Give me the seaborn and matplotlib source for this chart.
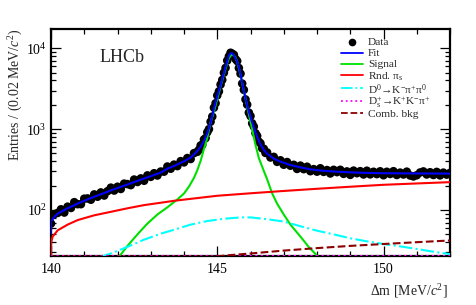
import numpy as np
import pandas as pd
import matplotlib
matplotlib.use("Agg")
import matplotlib.pyplot as plt
from matplotlib.lines import Line2D
from matplotlib.ticker import FixedLocator, LogLocator, NullFormatter, FixedFormatter
import seaborn as sns

# ---------------- data ----------------
# data points (bins)
data_y_left = [68, 89, 92, 102, 93, 110, 106, 125, 118, 118, 138, 139, 134, 156, 146, 165, 151, 171, 189, 174,
               194, 182, 212, 209, 203, 238, 222, 246, 230, 268, 257, 285, 267, 299, 298, 345, 324, 364, 349, 402,
               388, 439, 427, 505, 524]                     # 140.0 .. 144.4 step 0.1
data_y_peak = [555, 628, 640, 745, 775, 915, 1000, 1235, 1430, 1840, 2090, 2610, 2930, 3560, 4060, 4980,
               5720, 7050, 7950, 8800, 8550, 8300, 7350, 6950, 5700, 4850, 3660, 3060, 2330, 2010, 1600,
               1450, 1180, 1075, 890, 825, 700, 668, 580, 572, 508, 515]  # 144.45 .. 146.5 step 0.05
data_y_right = [446, 454, 394, 412, 363, 392, 353, 362, 322, 354, 320, 343, 302, 320, 298, 328, 296, 312, 283, 314,
                294, 314, 280, 300, 272, 307, 285, 302, 275, 306, 276, 297, 278, 301, 269, 297, 279, 302, 271, 290,
                275, 298, 267, 260, 269, 291, 300, 275, 293, 271, 296, 268, 290, 274, 288]  # 146.6 .. 152.0 step 0.1

fit_x = [140.0, 140.005, 140.1, 140.2, 140.3, 140.5, 140.8, 141.0, 141.3, 141.6, 141.8, 142.0, 142.3, 142.6,
         142.8, 143.0, 143.3, 143.5, 143.7, 144.0, 144.2, 144.4, 144.5, 144.6, 144.7, 144.75, 144.8, 144.85,
         144.9, 144.95, 145.0, 145.05, 145.1, 145.15, 145.2, 145.25, 145.3, 145.35, 145.4, 145.45, 145.5,
         145.55, 145.6, 145.65, 145.7, 145.75, 145.8, 145.85, 145.9, 145.95, 146.0, 146.1, 146.2, 146.3,
         146.4, 146.5, 146.7, 146.9, 147.2, 147.5, 147.8, 148.2, 148.7, 149.3, 150.0, 151.0, 152.0]
fit_y = [51, 72, 82, 90, 95, 105, 120, 130, 146, 162, 175, 187, 207, 229,
         245, 262, 290, 325, 350, 400, 445, 535, 605, 715, 885, 1030, 1200, 1470,
         1790, 2140, 2550, 3000, 3480, 4150, 4880, 5850, 6900, 8100, 8650, 8650, 8150,
         7500, 6800, 5850, 4750, 3750, 2980, 2400, 1950, 1650, 1410, 1040, 800, 648,
         555, 497, 432, 396, 360, 337, 318, 305, 296, 289, 285, 283, 282]

sig_x = [142.0, 142.3, 142.6, 142.9, 143.2, 143.5, 143.8, 144.0, 144.15, 144.3, 144.4, 144.5, 144.59, 144.7,
         144.79, 144.9, 144.99, 145.1, 145.19, 145.3, 145.35, 145.42, 145.48, 145.54, 145.6, 145.69, 145.77,
         145.84, 145.92, 145.99, 146.07, 146.14, 146.25, 146.39, 146.5, 146.65, 146.8, 147.0, 147.2, 147.5,
         147.75, 148.05]
sig_y = [25, 36, 50, 68, 88, 108, 135, 160, 195, 250, 310, 405, 550, 780,
         1175, 1650, 2280, 3400, 4600, 6600, 7500, 8250, 8250, 7800, 6800, 4880, 3400,
         2500, 1750, 1290, 910, 665, 440, 312, 240, 161, 120, 88, 66, 47,
         35, 26]

rnd_x = [140.0, 140.005, 140.05, 140.2, 140.5, 140.8, 141.3, 141.8, 142.3, 142.8, 143.3, 143.7, 144.5,
         145.0, 146.0, 147.0, 148.0, 149.0, 150.0, 151.0, 152.0]
rnd_y = [20, 40, 47, 56, 66, 75, 86, 95, 105, 115, 123, 130, 142,
         150, 161, 172, 183, 194, 205, 213, 221]

d0_x = [141.45, 141.8, 142.3, 142.8, 143.3, 143.7, 144.2, 144.7, 145.2, 145.7, 146.0, 146.5, 147.0, 147.5,
        148.0, 148.5, 149.0, 149.5, 150.0, 150.5, 151.0, 151.5, 152.0]
d0_y = [26, 29, 35, 43, 51, 57, 66, 73, 78, 81, 81, 77, 72, 63,
        55.5, 50, 44.7, 41, 38, 35.5, 33, 30.5, 28.5]

ds_x = [140.0, 152.0]
ds_y = [27.2, 27.2]

comb_x = [140.0, 144.9, 145.3, 146.0, 147.0, 148.0, 149.0, 150.0, 151.0, 152.0]
comb_y = [26.5, 26.5, 27.5, 29, 31.5, 33.8, 36, 38, 40, 42]

legend_labels = ["Data", "Fit", "Signal", r"Rnd. π$_\mathregular{s}$",
                 r"D$^\mathregular{0}$→K$^\mathregular{-}$π$^\mathregular{+}$π$^\mathregular{0}$",
                 r"D$_\mathregular{s}^\mathregular{+}$→K$^\mathregular{+}$K$^\mathregular{-}$π$^\mathregular{+}$",
                 "Comb. bkg"]
xticks = [140, 145, 150]

# ---------------- style ----------------
sns.set_theme(style="ticks")
plt.rcParams["font.family"] = ["Liberation Serif", "DejaVu Serif"]
plt.rcParams["mathtext.fontset"] = "custom"
plt.rcParams["mathtext.rm"] = "Liberation Serif"
plt.rcParams["mathtext.it"] = "Liberation Serif:italic"
plt.rcParams["mathtext.bf"] = "Liberation Serif:bold"

W, H = 477, 305
fig = plt.figure(figsize=(W / 100, H / 100), dpi=100)
L, R, T, B = 51, 450, 29, 256
ax = fig.add_axes([L / W, 1 - B / H, (R - L) / W, (B - T) / H])

dx = np.concatenate([np.linspace(140.0, 144.4, 45), np.linspace(144.45, 146.5, 42), np.linspace(146.6, 152.0, 55)])
dy = np.array(data_y_left + data_y_peak + data_y_right, dtype=float)
df = pd.DataFrame({"x": dx, "y": dy})

ax.errorbar(df["x"], df["y"], yerr=np.sqrt(df["y"]), fmt="none", ecolor="black", elinewidth=1.4, zorder=2)
sns.scatterplot(data=df, x="x", y="y", ax=ax, color="black", s=38, edgecolor="none", zorder=3, legend=False)

lw = 1.5
curves = [
    (fit_x, fit_y, "#0000ff", "-", 5),
    (sig_x, sig_y, "#00e000", "-", 4),
    (rnd_x, rnd_y, "#ff0000", "-", 4),
    (d0_x, d0_y, "#00ffff", "-.", 4),
    (ds_x, ds_y, "#ff00ff", ":", 4),
    (comb_x, comb_y, "#8b0000", "--", 4),
]
for cx, cy, col, ls, z in curves:
    sns.lineplot(x=cx, y=cy, ax=ax, color=col, linestyle=ls, linewidth=lw, zorder=z,
                 estimator=None, sort=True)

ax.set_yscale("log")
ax.set_xlim(140, 152)
ax.set_ylim(27.0, 17300)

ax.xaxis.set_major_locator(FixedLocator(xticks))
ax.xaxis.set_major_formatter(FixedFormatter([str(t) for t in xticks]))
ax.xaxis.set_minor_locator(FixedLocator(list(range(140, 153))))
ax.yaxis.set_major_locator(LogLocator(base=10))
ax.yaxis.set_minor_locator(LogLocator(base=10, subs=np.arange(2, 10)))
ax.yaxis.set_minor_formatter(NullFormatter())
ax.yaxis.set_major_formatter(matplotlib.ticker.FuncFormatter(
    lambda v, p: r"$\mathregular{10^{%d}}$" % int(round(np.log10(v)))))

ax.tick_params(which="both", direction="in", top=True, right=True, colors="black",
               labelsize=10, width=0.9)
ax.tick_params(which="major", length=7)
ax.tick_params(which="minor", length=3.5)
ax.tick_params(axis="x", which="major", pad=5)
ax.tick_params(axis="y", which="major", pad=3)
for s in ax.spines.values():
    s.set_linewidth(1.6)
    s.set_color("black")
ax.set_xlabel("")
ax.set_ylabel("")

fig.text(448 / W, 1 - 291.5 / H, r"Δm [MeV/$c^{2}$]", ha="right", va="center", fontsize=10)
fig.text(16 / W, 1 - 28 / H, r"Entries / (0.02 MeV/$c^{2}$)", rotation=90, ha="center", va="top", fontsize=10)
fig.text(122 / W, 1 - 57 / H, "LHCb", ha="center", va="center", fontsize=13)

# manual legend (pixel positions)
def fx(px):
    return px / W
def fy(py):
    return 1 - py / H

rows = [41.5, 52.5, 63.5, 75.0, 88.3, 101.0, 113.3]
styles = [None, ("#0000ff", "-"), ("#00e000", "-"), ("#ff0000", "-"), ("#00ffff", "-."),
          ("#ff00ff", ":"), ("#8b0000", "--")]
for ry, lab, st in zip(rows, legend_labels, styles):
    if st is None:
        fig.add_artist(Line2D([fx(352)], [fy(ry)], marker="o", color="black", markersize=4.5, linestyle="none"))
    else:
        fig.add_artist(Line2D([fx(341), fx(363)], [fy(ry), fy(ry)], color=st[0], linestyle=st[1], linewidth=1.3))
    fig.text(fx(368), fy(ry), lab, ha="left", va="center_baseline", fontsize=8.2)

fig.savefig("out.png", dpi=100)
